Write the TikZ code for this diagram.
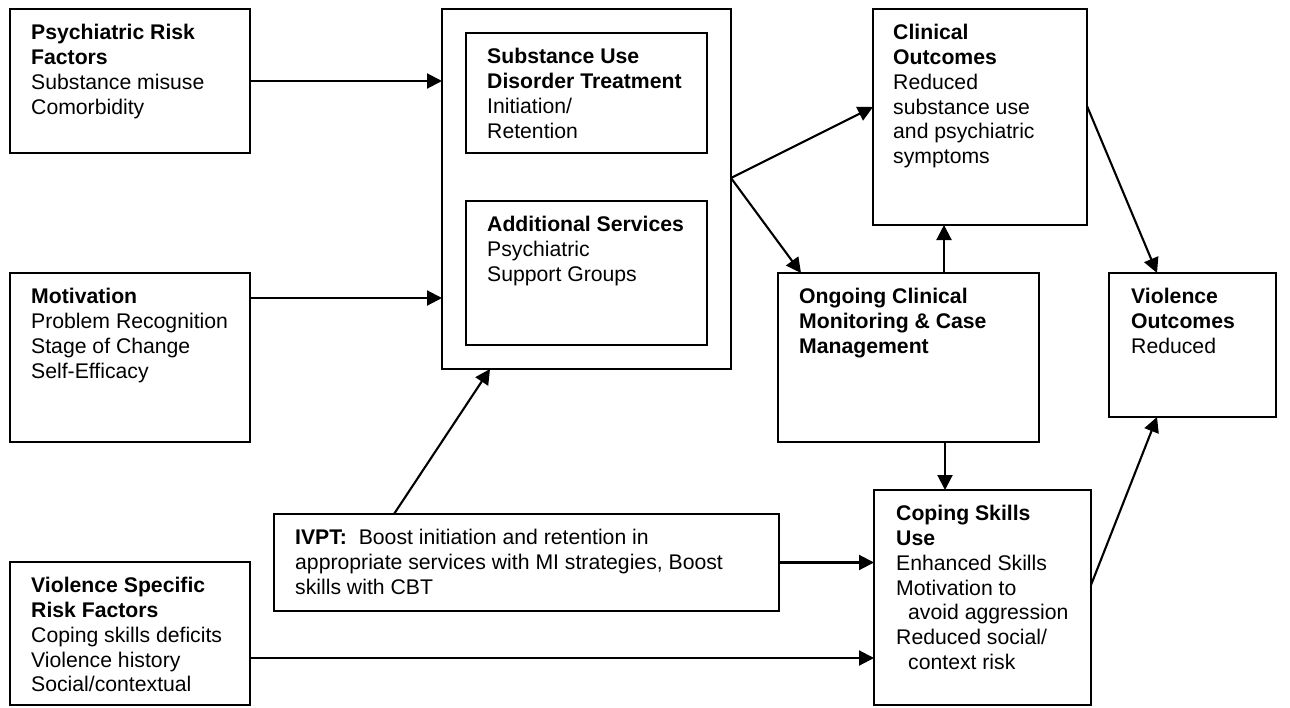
\documentclass[tikz,border=0pt]{standalone}
\usepackage{fontspec}
\setmainfont{Liberation Sans}
\usetikzlibrary{arrows.meta,calc}
\newcommand{\fls}{\rule{0pt}{16pt}}
\newcommand{\ind}{\hspace*{12pt}}
\begin{document}
\begin{tikzpicture}[x=1pt,y=-1pt,
  box/.style={draw, line width=2pt, inner sep=0pt, outer sep=0pt, anchor=north west},
  txt/.style={anchor=north west, inner sep=0pt, align=left, font=\fontsize{21.2}{24.8}\selectfont},
  arr/.style={line width=2.1pt, -{Triangle[length=15pt,width=15pt]}}]
\useasboundingbox (0,0) rectangle (1290,707);
% boxes
\node[box, minimum width=240pt, minimum height=144pt] (psych) at (10,9) {};
\node[box, minimum width=240pt, minimum height=169pt] (mot) at (10,273) {};
\node[box, minimum width=240pt, minimum height=143pt] (vsr) at (10,562) {};
\node[box, minimum width=289pt, minimum height=360pt] (outer) at (442,9) {};
\node[box, minimum width=241pt, minimum height=120pt] (sud) at (466,33) {};
\node[box, minimum width=241pt, minimum height=144pt] (add) at (466,201) {};
\node[box, minimum width=505pt, minimum height=97pt] (ivpt) at (274,514) {};
\node[box, minimum width=214pt, minimum height=216pt] (clin) at (873,9) {};
\node[box, minimum width=261pt, minimum height=169pt] (ong) at (778,273) {};
\node[box, minimum width=167pt, minimum height=144pt] (vout) at (1109,273) {};
\node[box, minimum width=217pt, minimum height=215pt] (cope) at (874,490) {};
% texts
\node[txt] (psychT) at ($(psych.north west)+(21,14.5)$) {\fls\textbf{Psychiatric Risk}\\\textbf{Factors}\\Substance misuse\\Comorbidity};
\node[txt] (motT) at ($(mot.north west)+(21,14.5)$) {\fls\textbf{Motivation}\\Problem Recognition\\Stage of Change\\Self-Efficacy};
\node[txt] (vsrT) at ($(vsr.north west)+(21,14.5)$) {\fls\textbf{Violence Specific}\\\textbf{Risk Factors}\\Coping skills deficits\\Violence history\\Social/contextual};
\node[txt] (sudT) at ($(sud.north west)+(21,14.5)$) {\fls\textbf{Substance Use}\\\textbf{Disorder Treatment}\\Initiation/\\Retention};
\node[txt] (addT) at ($(add.north west)+(21,14.5)$) {\fls\textbf{Additional Services}\\Psychiatric\\Support Groups};
\node[txt] (ivptT) at ($(ivpt.north west)+(21,14.5)$) {\fls\textbf{IVPT:}\ \ Boost initiation and retention in\\appropriate services with MI strategies, Boost\\skills with CBT};
\node[txt] (clinT) at ($(clin.north west)+(20,14.5)$) {\fls\textbf{Clinical}\\\textbf{Outcomes}\\Reduced\\substance use\\and psychiatric\\symptoms};
\node[txt] (ongT) at ($(ong.north west)+(21,14.5)$) {\fls\textbf{Ongoing Clinical}\\\textbf{Monitoring \& Case}\\\textbf{Management}};
\node[txt] (voutT) at ($(vout.north west)+(22,14.5)$) {\fls\textbf{Violence}\\\textbf{Outcomes}\\Reduced};
\node[txt] (copeT) at ($(cope.north west)+(22,14.5)$) {\fls\textbf{Coping Skills}\\\textbf{Use}\\Enhanced Skills\\Motivation to\\\ind avoid aggression\\Reduced social/\\\ind context risk};
% connector coordinates
\coordinate (motA) at ($(mot.north east)+(0,25)$);
\coordinate (vsrA) at ($(vsr.north east)+(0,96)$);
\coordinate (ivptUp) at ($(ivpt.north west)+(120,0)$);
\coordinate (outerIn) at ($(outer.south west)+(48,0)$);
\coordinate (branch) at ($(outer.east)+(0,-11)$);
\coordinate (clinIn) at ($(clin.west)+(0,-10)$);
\coordinate (ongIn) at ($(ong.north west)+(23,0)$);
\coordinate (ongUp) at ($(ong.north west)+(166,0)$);
\coordinate (ongDown) at ($(ong.south west)+(167,0)$);
\coordinate (clinOut) at ($(clin.north east)+(0,97)$);
\coordinate (voutIn) at ($(vout.north west)+(48,0)$);
\coordinate (copeOut) at ($(cope.north east)+(0,95)$);
\coordinate (voutIn2) at ($(vout.south west)+(48,0)$);
% connectors
\draw[arr] (psych.east) -- (psych.east -| outer.west);
\draw[arr] (motA) -- (motA -| outer.west);
\draw[arr] (vsrA) -- (vsrA -| cope.west);
\draw[arr] (ivptUp) -- (outerIn);
\draw[arr] (ivpt.east) -- (ivpt.east -| cope.west);
\draw[arr] (branch) -- (clinIn);
\draw[arr] (branch) -- (ongIn);
\draw[arr] (ongUp) -- (ongUp |- clin.south);
\draw[arr] (ongDown) -- (ongDown |- cope.north);
\draw[arr] (clinOut) -- (voutIn);
\draw[arr] (copeOut) -- (voutIn2);
\end{tikzpicture}
\end{document}
